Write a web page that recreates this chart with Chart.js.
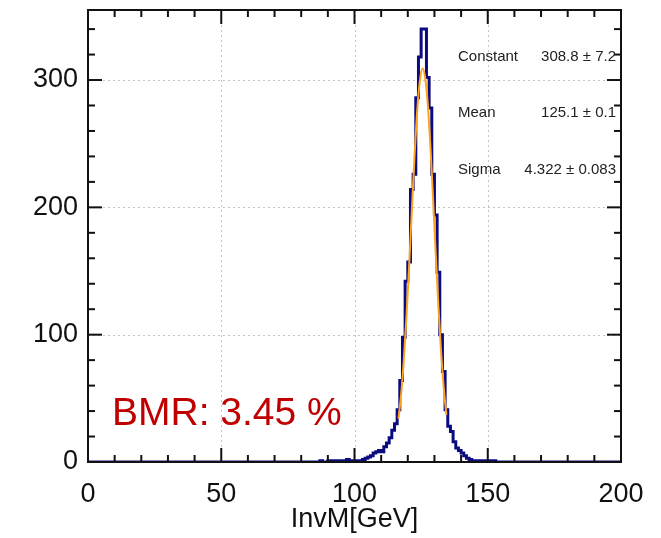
<!DOCTYPE html>
<html>
<head>
<meta charset="utf-8">
<script src="https://cdn.jsdelivr.net/npm/chart.js@4.4.0/dist/chart.umd.min.js"></script>
<style>
  html, body { margin: 0; padding: 0; background: #fff; }
  canvas { display: block; }
</style>
</head>
<body>
<canvas id="invm" width="661" height="538"></canvas>
<script>
// histogram: 1 GeV bins, first bin starts at 85 GeV
const binStart = 85
const binWidth = 1
const counts = [
	0, 0, 1, 0, 0, 1, 0, 1, 1, 0,          // 85-94
	1, 1, 2, 1, 1, 0, 1, 1, 2, 3,          // 95-104
	4, 5, 7, 8, 9, 8, 12, 15, 19, 25,      // 105-114
	30, 41, 64, 98, 142, 157, 214, 226, 286, 318,   // 115-124
	340, 340, 302, 278, 226, 194, 149, 100, 71, 41, // 125-134
	28, 24, 16, 11, 9, 7, 5, 3, 2, 1,      // 135-144
	1, 1, 0, 1, 0, 1, 0, 1, 0              // 145-153
]

// gaussian fit curve
const fitX = [116.5, 117.5, 118.5, 119.5, 120.5, 121.5, 122.5, 123.5, 124.5, 125.5,
	126.5, 127.5, 128.5, 129.5, 130.5, 131.5, 132.5, 133.5, 134.5]
const fitY = [34, 53, 80, 114, 154, 197, 239, 275, 299, 309,
	302, 281, 247, 206, 163, 122, 86, 58, 37]

const xTicks = [0, 50, 100, 150, 200]
const yTicks = [0, 100, 200, 300]
const statNames = ["Constant", "Mean", "Sigma"]
const statValues = ["308.8 ± 7.2", "125.1 ± 0.1", "4.322 ± 0.083"]
const bmrLabel = "BMR: 3.45 %"

const FONT = "'Liberation Sans', Arial, sans-serif"
const xMinorStep = 10
const yMinorStep = 20

const histPoints = [{x: 0, y: 0}]
counts.forEach((c, i) => histPoints.push({x: binStart + i * binWidth, y: c}))
histPoints.push({x: binStart + counts.length * binWidth, y: 0})
histPoints.push({x: 200, y: 0})

const fitPoints = fitX.map((v, i) => ({x: v, y: fitY[i]}))

function tickLine(ctx, x1, y1, x2, y2) {
	ctx.beginPath()
	ctx.moveTo(x1, y1)
	ctx.lineTo(x2, y2)
	ctx.stroke()
}

const rootStyle = {
	id: 'rootStyle',
	beforeDatasetsDraw(chart) {
		const {ctx, chartArea: a, scales: {x, y}} = chart
		ctx.save()
		ctx.strokeStyle = '#c4c4c4'
		ctx.lineWidth = 1
		ctx.setLineDash([2, 3])
		xTicks.forEach(v => {
			if (v <= x.min || v >= x.max) return
			const px = Math.round(x.getPixelForValue(v)) + 0.5
			tickLine(ctx, px, a.top, px, a.bottom)
		})
		yTicks.forEach(v => {
			if (v <= y.min || v >= y.max) return
			const py = Math.round(y.getPixelForValue(v)) + 0.5
			tickLine(ctx, a.left, py, a.right, py)
		})
		ctx.restore()
	},
	afterDatasetsDraw(chart) {
		const {ctx, chartArea: a, scales: {x, y}} = chart
		ctx.save()
		ctx.strokeStyle = '#111'
		ctx.lineWidth = 2
		ctx.strokeRect(a.left, a.top, a.right - a.left, a.bottom - a.top)

		// ticks pointing inwards on all four sides
		for (let v = x.min + xMinorStep; v < x.max; v += xMinorStep) {
			const len = xTicks.includes(v) ? 14 : 7
			const px = x.getPixelForValue(v)
			tickLine(ctx, px, a.bottom, px, a.bottom - len)
			tickLine(ctx, px, a.top, px, a.top + len)
		}
		for (let v = y.min + yMinorStep; v < y.max; v += yMinorStep) {
			const len = yTicks.includes(v) ? 14 : 7
			const py = y.getPixelForValue(v)
			tickLine(ctx, a.left, py, a.left + len, py)
			tickLine(ctx, a.right, py, a.right - len, py)
		}

		// fit parameters
		ctx.fillStyle = '#222'
		ctx.font = '15px ' + FONT
		ctx.textBaseline = 'middle'
		const rowY = [a.top + 47, a.top + 103, a.top + 160]
		statNames.forEach((name, i) => {
			ctx.textAlign = 'left'
			ctx.fillText(name, a.left + 370, rowY[i])
			ctx.textAlign = 'right'
			ctx.fillText(statValues[i], a.right - 5, rowY[i])
		})

		ctx.fillStyle = '#c00000'
		ctx.font = '39px ' + FONT
		ctx.textAlign = 'left'
		ctx.textBaseline = 'alphabetic'
		ctx.fillText(bmrLabel, a.left + 24, a.bottom - 37)
		ctx.restore()
	}
}

const ctxInvM = document.getElementById("invm")

new Chart(ctxInvM, {
	type: 'line',
	data: {
		datasets: [{
			label: 'histogram',
			data: histPoints,
			stepped: 'before',
			borderColor: "#0b0b80",
			borderWidth: 3,
			pointRadius: 0,
			fill: false,
			order: 2
		}, {
			label: 'fit',
			data: fitPoints,
			borderColor: "#ffa31a",
			borderWidth: 2,
			pointRadius: 0,
			tension: 0.4,
			cubicInterpolationMode: 'monotone',
			fill: false,
			order: 1
		}]
	},
	options: {
		responsive: false,
		animation: false,
		layout: {
			padding: {left: 0, right: 40, top: 10, bottom: 0}
		},
		plugins: {
			legend: {display: false},
			tooltip: {enabled: false}
		},
		scales: {
			x: {
				type: 'linear',
				min: 0,
				max: 200,
				afterBuildTicks: s => { s.ticks = xTicks.map(v => ({value: v})) },
				afterFit: s => { s.height = 76; s.paddingLeft = 0; s.paddingRight = 0 },
				grid: {display: false, drawTicks: false},
				border: {display: false},
				ticks: {
					padding: 16,
					color: '#111',
					font: {family: FONT, size: 27},
					maxRotation: 0
				},
				title: {
					display: true,
					text: 'InvM[GeV]',
					color: '#111',
					font: {family: FONT, size: 27},
					padding: {top: 0, bottom: 2}
				}
			},
			y: {
				type: 'linear',
				min: 0,
				max: 355,
				afterBuildTicks: s => { s.ticks = yTicks.map(v => ({value: v})) },
				afterFit: s => { s.width = 88; s.paddingTop = 0; s.paddingBottom = 0 },
				grid: {display: false, drawTicks: false},
				border: {display: false},
				ticks: {
					padding: 10,
					color: '#111',
					font: {family: FONT, size: 27}
				}
			}
		}
	},
	plugins: [rootStyle]
})
</script>
</body>
</html>
